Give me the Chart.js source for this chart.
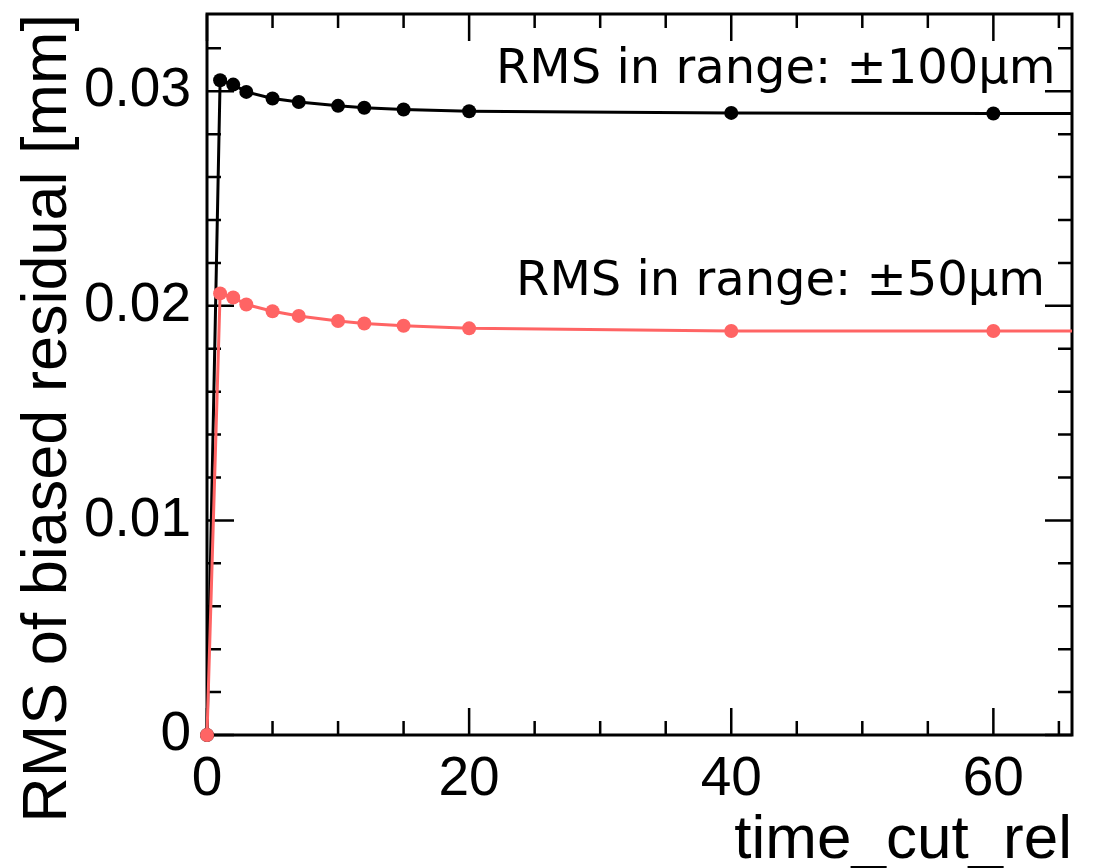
<!DOCTYPE html>
<html>
<head>
<meta charset="utf-8">
<script src="https://cdn.jsdelivr.net/npm/chart.js@4.4.1/dist/chart.umd.min.js"></script>
<style>
html,body{margin:0;padding:0;background:#fff;}
#wrap{width:1099px;height:868px;}
</style>
</head>
<body>
<div id="wrap"><canvas id="rmsChart"></canvas></div>
<script>
// values
const timeCut = [0, 1, 2, 3, 5, 7, 10, 12, 15, 20, 40, 60];
const rms100 = [0, 0.03051, 0.03031, 0.02997, 0.02966, 0.0295, 0.02932, 0.02923, 0.02915, 0.02907, 0.02899, 0.02896];
const rms50 = [0, 0.02058, 0.02039, 0.02006, 0.01975, 0.01953, 0.01929, 0.01918, 0.01907, 0.01895, 0.01883, 0.01883];
const xTicks = [0, 20, 40, 60];
const yTicks = [0, 0.01, 0.02, 0.03];
const xMax = 66, yMax = 0.0336;

const notes = [
  {text: 'RMS in range: \u00b1100\u03bcm', x: 64.75, y: 0.0304},
  {text: 'RMS in range: \u00b150\u03bcm', x: 63.95, y: 0.0205}
];

// line runs on to the right edge after the last point
function series(vals) {
  let pts = timeCut.map((x, i) => ({x: x, y: vals[i]}));
  pts.push({x: xMax, y: vals[vals.length - 1]});
  return pts;
}
const radius = ctx => ctx.dataIndex === timeCut.length ? 0 : 7;

const rootFrame = {
  id: 'rootFrame',
  beforeDatasetsDraw(chart) {
    const {ctx, chartArea: a, scales: {x, y}} = chart;
    ctx.save();
    ctx.strokeStyle = '#000';
    ctx.lineWidth = 2.5;
    ctx.beginPath();
    for (let v = 0; v <= xMax; v += 5) {
      let px = x.getPixelForValue(v);
      let len = v % 20 === 0 ? 27 : 14;
      ctx.moveTo(px, a.bottom); ctx.lineTo(px, a.bottom - len);
      ctx.moveTo(px, a.top); ctx.lineTo(px, a.top + len);
    }
    for (let k = 0; k * 0.002 <= yMax; k++) {
      let py = y.getPixelForValue(k * 0.002);
      let len = k % 5 === 0 ? 27 : 14;
      ctx.moveTo(a.left, py); ctx.lineTo(a.left + len, py);
      ctx.moveTo(a.right, py); ctx.lineTo(a.right - len, py);
    }
    ctx.stroke();
    ctx.lineWidth = 3;
    ctx.strokeRect(a.left, a.top, a.right - a.left, a.bottom - a.top);
    ctx.restore();
  },
  afterDraw(chart) {
    const {ctx, scales: {x, y}} = chart;
    ctx.save();
    ctx.fillStyle = '#000';
    ctx.font = '48px "DejaVu Sans"';
    ctx.textAlign = 'right';
    ctx.textBaseline = 'alphabetic';
    notes.forEach(n => ctx.fillText(n.text, x.getPixelForValue(n.x), y.getPixelForValue(n.y)));
    ctx.restore();
  }
};

new Chart(document.getElementById('rmsChart'), {
  type: 'line',
  data: {
    datasets: [
      {
        label: '\u00b1100\u03bcm',
        data: series(rms100),
        borderColor: '#000',
        backgroundColor: '#000',
        borderWidth: 3,
        pointRadius: radius,
        pointBorderWidth: 0,
        tension: 0,
        clip: false,
        order: 1
      },
      {
        label: '\u00b150\u03bcm',
        data: series(rms50),
        borderColor: '#ff6464',
        backgroundColor: '#ff6464',
        borderWidth: 3,
        pointRadius: radius,
        pointBorderWidth: 0,
        tension: 0,
        clip: false,
        order: 0
      }
    ]
  },
  options: {
    responsive: true,
    maintainAspectRatio: false,
    animation: false,
    layout: {padding: {top: 14, right: 27, left: 0, bottom: 0}},
    plugins: {legend: {display: false}, tooltip: {enabled: false}},
    scales: {
      x: {
        type: 'linear',
        min: 0,
        max: xMax,
        afterBuildTicks: s => { s.ticks = xTicks.map(v => ({value: v})); },
        afterFit: s => { s.height = 133; s.paddingLeft = 0; s.paddingRight = 0; },
        grid: {display: false},
        border: {display: false},
        ticks: {
          color: '#000',
          padding: 4,
          maxRotation: 0,
          font: {family: '"Liberation Sans"', size: 55},
          callback: v => String(v)
        },
        title: {
          display: true,
          text: 'time_cut_rel',
          align: 'end',
          color: '#000',
          padding: {top: 0, bottom: -4},
          font: {family: '"Liberation Sans"', size: 62, lineHeight: 1}
        }
      },
      y: {
        type: 'linear',
        min: 0,
        max: yMax,
        afterBuildTicks: s => { s.ticks = yTicks.map(v => ({value: v})); },
        afterFit: s => { s.width = 207; s.paddingTop = 0; s.paddingBottom = 0; },
        grid: {display: false},
        border: {display: false},
        ticks: {
          color: '#000',
          padding: 8,
          font: {family: '"Liberation Sans"', size: 55},
          callback: v => v === 0 ? '0' : v.toFixed(2)
        },
        title: {
          display: true,
          text: 'RMS of biased residual [mm]',
          align: 'end',
          color: '#000',
          padding: {top: 17, bottom: 0},
          font: {family: '"Liberation Sans"', size: 63, lineHeight: 1}
        }
      }
    }
  },
  plugins: [rootFrame]
});
</script>
</body>
</html>
